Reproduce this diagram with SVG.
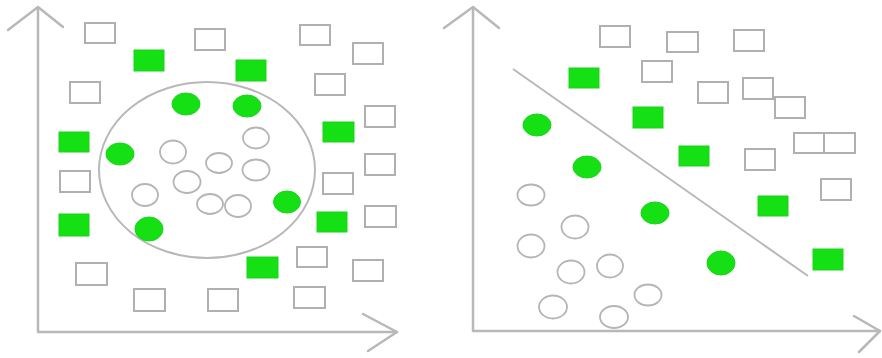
<svg xmlns="http://www.w3.org/2000/svg" width="882" height="358" viewBox="0 0 882 358">
<style>
.ax{stroke:#b8b8b8;stroke-width:2.5;fill:none;stroke-linecap:round;stroke-linejoin:round}
.e{fill:none;stroke:#b0b0b0;stroke-width:2}
.g{fill:#14e014;stroke:#1bd41b;stroke-width:1}
.ec{fill:none;stroke:#b5b5b5;stroke-width:1.8}
.sep{fill:none;stroke:#b8b8b8;stroke-width:2}
</style>
<rect width="882" height="358" fill="#ffffff"/>
<g id="left-panel">
  <g id="left-axes">
    <path class="ax" d="M38,8 L38,332 L397,332"/>
    <path class="ax" d="M8,30 L38,7 L63,27"/>
    <path class="ax" d="M363,314 L397,332 L368,351"/>
  </g>
  <ellipse id="left-boundary" class="sep" cx="207" cy="170" rx="108" ry="88"/>
  <g id="left-empty-rects">
    <rect class="e" x="85" y="23" width="30" height="20"/>
    <rect class="e" x="195" y="29" width="30" height="21"/>
    <rect class="e" x="300" y="25" width="30" height="20"/>
    <rect class="e" x="353" y="43" width="30" height="21"/>
    <rect class="e" x="70" y="82" width="30" height="21"/>
    <rect class="e" x="315" y="74" width="30" height="21"/>
    <rect class="e" x="365" y="106" width="30" height="21"/>
    <rect class="e" x="365" y="154" width="30" height="21"/>
    <rect class="e" x="60" y="171" width="30" height="21"/>
    <rect class="e" x="323" y="173" width="30" height="21"/>
    <rect class="e" x="365" y="206" width="31" height="21"/>
    <rect class="e" x="297" y="247" width="30" height="20"/>
    <rect class="e" x="353" y="260" width="30" height="21"/>
    <rect class="e" x="76" y="263" width="31" height="22"/>
    <rect class="e" x="134" y="289" width="31" height="22"/>
    <rect class="e" x="208" y="289" width="30" height="22"/>
    <rect class="e" x="294" y="287" width="31" height="21"/>
  </g>
  <g id="left-green-rects">
    <rect class="g" x="134" y="50" width="30" height="21"/>
    <rect class="g" x="236" y="60" width="30" height="21"/>
    <rect class="g" x="59" y="132" width="30" height="20"/>
    <rect class="g" x="323" y="122" width="31" height="20"/>
    <rect class="g" x="59" y="214" width="30" height="22"/>
    <rect class="g" x="317" y="212" width="30" height="20"/>
    <rect class="g" x="247" y="257" width="31" height="21"/>
  </g>
  <g id="left-green-circles">
    <ellipse class="g" cx="186" cy="104" rx="14" ry="11"/>
    <ellipse class="g" cx="247" cy="106" rx="14" ry="11"/>
    <ellipse class="g" cx="120" cy="154" rx="14" ry="11"/>
    <ellipse class="g" cx="287" cy="202" rx="13.5" ry="11"/>
    <ellipse class="g" cx="149" cy="229" rx="14" ry="12"/>
  </g>
  <g id="left-empty-circles">
    <ellipse class="ec" cx="256" cy="138" rx="13" ry="10.5"/>
    <ellipse class="ec" cx="173" cy="152" rx="13" ry="11.5"/>
    <ellipse class="ec" cx="219" cy="163" rx="13" ry="10"/>
    <ellipse class="ec" cx="256" cy="170" rx="13.5" ry="10.5"/>
    <ellipse class="ec" cx="187" cy="182" rx="13.5" ry="11"/>
    <ellipse class="ec" cx="145" cy="195" rx="13" ry="11"/>
    <ellipse class="ec" cx="210" cy="204" rx="13" ry="10"/>
    <ellipse class="ec" cx="238" cy="206" rx="13" ry="11"/>
  </g>
</g>
<g id="right-panel">
  <g id="right-axes">
    <path class="ax" d="M473,8 L473,331 L880,331"/>
    <path class="ax" d="M444,28 L473,7 L499,28"/>
    <path class="ax" d="M854,316 L880,331 L859,352"/>
  </g>
  <line id="right-boundary" class="sep" x1="513" y1="69" x2="808" y2="276"/>
  <g id="right-empty-rects">
    <rect class="e" x="600" y="26" width="30" height="21"/>
    <rect class="e" x="667" y="32" width="31" height="20"/>
    <rect class="e" x="734" y="30" width="30" height="21"/>
    <rect class="e" x="642" y="61" width="30" height="21"/>
    <rect class="e" x="698" y="82" width="30" height="21"/>
    <rect class="e" x="743" y="78" width="30" height="21"/>
    <rect class="e" x="775" y="97" width="30" height="21"/>
    <rect class="e" x="794" y="133" width="30" height="20"/>
    <rect class="e" x="824" y="133" width="31" height="20"/>
    <rect class="e" x="745" y="149" width="30" height="21"/>
    <rect class="e" x="821" y="179" width="30" height="21"/>
  </g>
  <g id="right-green-rects">
    <rect class="g" x="569" y="68" width="30" height="20"/>
    <rect class="g" x="633" y="107" width="30" height="21"/>
    <rect class="g" x="679" y="146" width="30" height="20"/>
    <rect class="g" x="758" y="196" width="30" height="20"/>
    <rect class="g" x="813" y="249" width="30" height="21"/>
  </g>
  <g id="right-green-circles">
    <ellipse class="g" cx="537" cy="125" rx="14" ry="11"/>
    <ellipse class="g" cx="587" cy="167" rx="14" ry="11"/>
    <ellipse class="g" cx="655" cy="213" rx="14" ry="11"/>
    <ellipse class="g" cx="721" cy="263" rx="14" ry="12"/>
  </g>
  <g id="right-empty-circles">
    <ellipse class="ec" cx="531" cy="195" rx="13.5" ry="10.5"/>
    <ellipse class="ec" cx="575" cy="227" rx="13.5" ry="11.5"/>
    <ellipse class="ec" cx="531" cy="246" rx="13.5" ry="11.5"/>
    <ellipse class="ec" cx="571" cy="272" rx="13.5" ry="11.5"/>
    <ellipse class="ec" cx="610" cy="266" rx="13" ry="11.5"/>
    <ellipse class="ec" cx="648" cy="295" rx="13.5" ry="10.5"/>
    <ellipse class="ec" cx="553" cy="307" rx="14" ry="11.5"/>
    <ellipse class="ec" cx="614" cy="317" rx="14" ry="11"/>
  </g>
</g>
</svg>
